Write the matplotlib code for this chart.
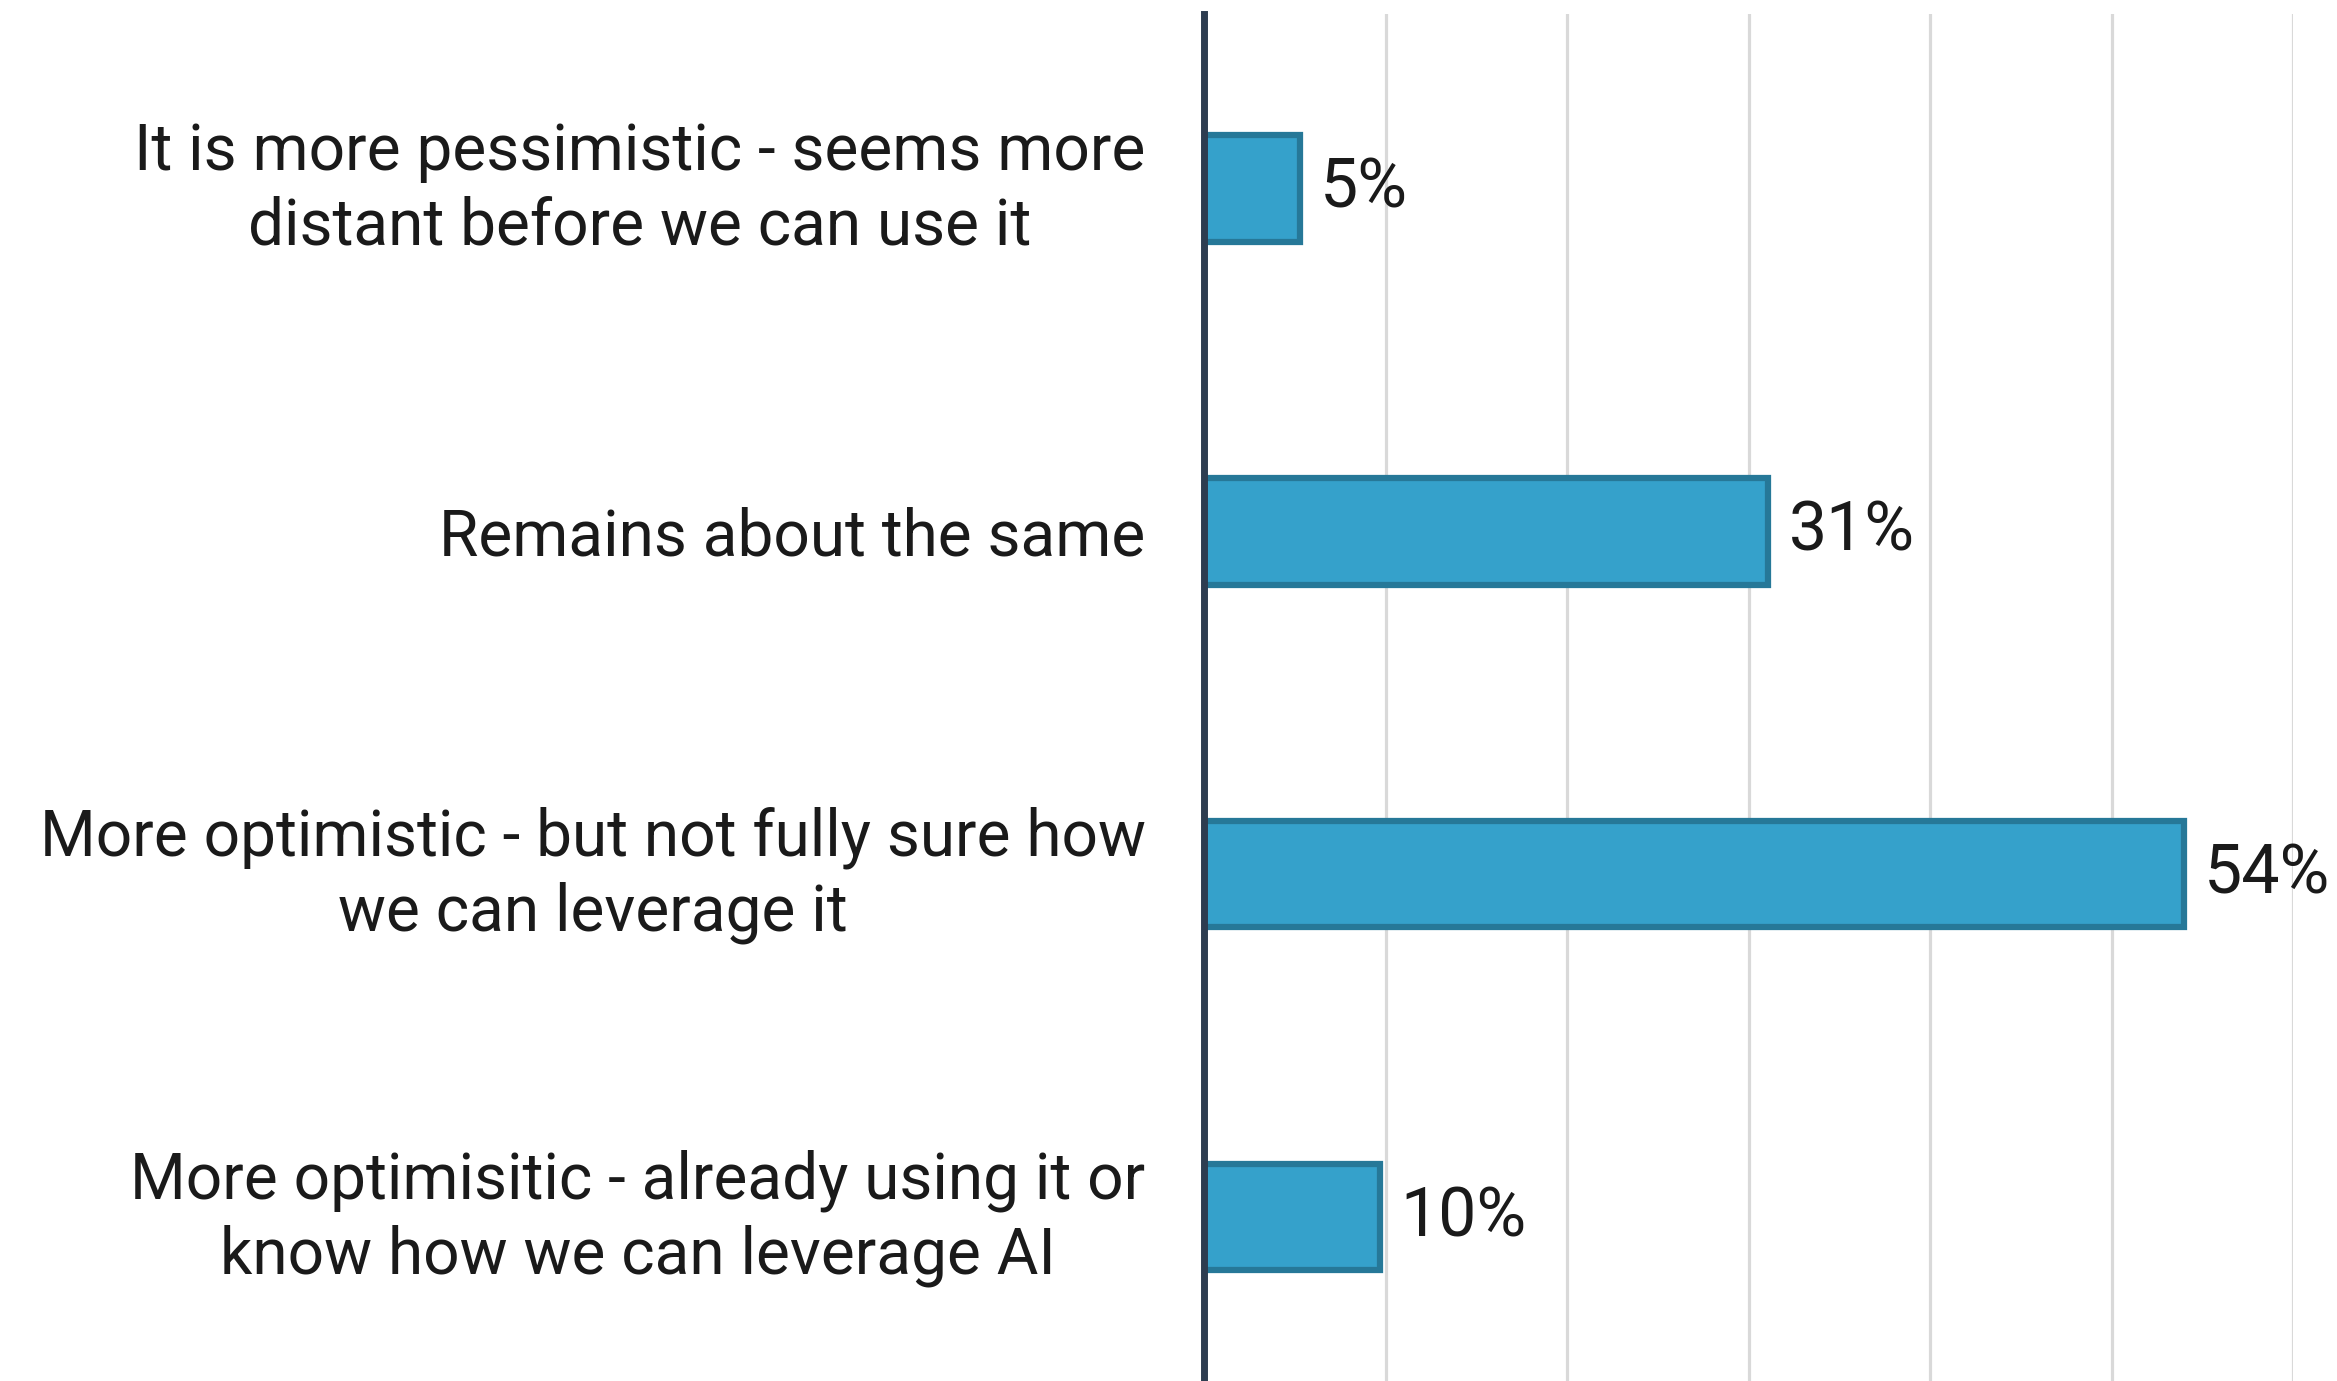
import matplotlib
matplotlib.use('Agg')
import matplotlib.pyplot as plt
import matplotlib.transforms as mtransforms

# ─── DATA ───
categories = [
    'It is more pessimistic - seems more\ndistant before we can use it',
    'Remains about the same',
    'More optimistic - but not fully sure how\nwe can leverage it',
    'More optimisitic - already using it or\nknow how we can leverage AI',
]
values = [5.3, 31.1, 54.0, 9.7]
value_labels = ['5%', '31%', '54%', '10%']
grid_ticks = [10, 20, 30, 40, 50, 60]

BAR_FILL = '#35A1CB'
BAR_EDGE = '#267898'
AXIS_COL = '#2D3D50'
GRID_COL = '#D9D9D9'
TEXT_COL = '#1A1A1A'
FS = 46
FS_VAL = 49

plt.rcParams['font.family'] = ['Roboto', 'DejaVu Sans']

W, H = 2337, 1381
fig = plt.figure(figsize=(W / 100, H / 100), dpi=100)
fig.patch.set_facecolor('white')

left = 1204 / W
right = 2293 / W
top = 1 - 14 / H
ax = fig.add_axes([left, 0.0, right - left, top])

ypos = list(range(len(categories)))
ax.barh(ypos, values, height=0.31, color=BAR_FILL, edgecolor=BAR_EDGE,
        linewidth=4.5, zorder=3)

for y, v, lab in zip(ypos, values, value_labels):
    ax.text(v + 1.1, y, lab, va='center', ha='left', fontsize=FS_VAL,
            color=TEXT_COL, zorder=4)

ax.set_xlim(0, 60)
ax.set_ylim(3.478, -0.509)

ax.set_xticks(grid_ticks)
ax.tick_params(axis='x', length=0, labelbottom=False)
ax.grid(axis='x', color=GRID_COL, linewidth=2.3, zorder=0)
ax.grid(axis='y', visible=False)

ax.set_yticks(ypos)
ax.set_yticklabels(categories, fontsize=FS, color=TEXT_COL)
ax.tick_params(axis='y', length=0, pad=42)
# two-line labels sit a bit low, nudge them up
nudge = mtransforms.ScaledTranslation(0, 0.12, fig.dpi_scale_trans)
for t in ax.get_yticklabels():
    t.set_multialignment('center')
    t.set_linespacing(1.25)
    if '\n' in t.get_text():
        t.set_transform(t.get_transform() + nudge)

for side in ['top', 'right', 'bottom']:
    ax.spines[side].set_visible(False)
ax.spines['left'].set_color(AXIS_COL)
ax.spines['left'].set_linewidth(5)
ax.spines['left'].set_zorder(5)

fig.savefig('out.png', dpi=100, facecolor='white')
